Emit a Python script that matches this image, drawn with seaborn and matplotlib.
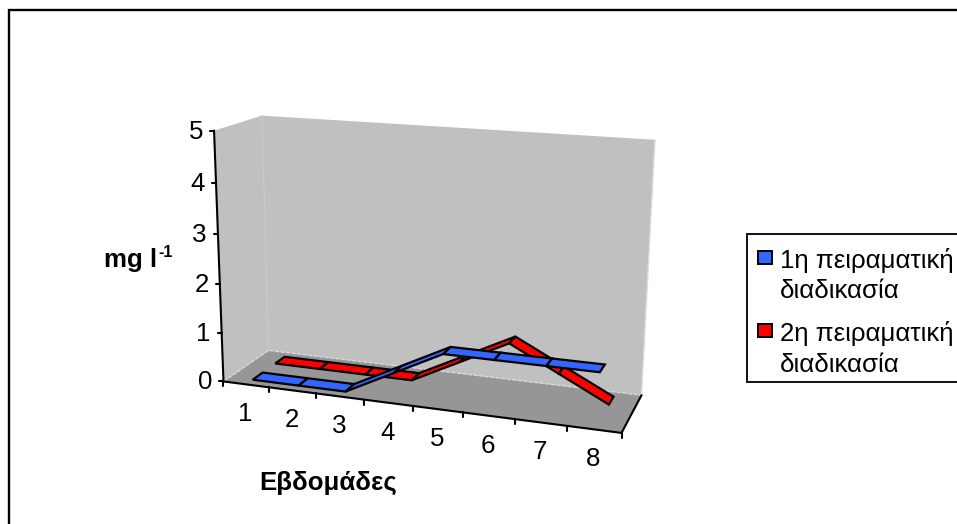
import numpy as np
import pandas as pd
import matplotlib
matplotlib.use("Agg")
import matplotlib.pyplot as plt
import seaborn as sns

# valeurs
weeks = [1, 2, 3, 4, 5, 6, 7, 8]
serie1 = [0, 0, 0, 0.5, 1, 1, 1, 1]
serie2 = [0, 0, 0, 0, 0.5, 1, 0.5, 0]
names = ["1η πειραματική\nδιαδικασία", "2η πειραματική\nδιαδικασία"]
colors = ["#3366FF", "#FF0000"]
yticks = [0, 1, 2, 3, 4, 5]
xlabel = "Εβδομάδες"
ylabel = "mg l"

W, H = 957, 524
sns.set_theme(style="white")
plt.rcParams["font.family"] = ["Liberation Sans", "DejaVu Sans"]

# coins du cadre 3D (semaine 0-8, profondeur 0-1, valeur 0-5) -> pixels
corners = [
    ((0, 0, 0), (224, 381)), ((8, 0, 0), (621, 434)),
    ((0, 1, 0), (268, 351)), ((8, 1, 0), (642, 394)),
    ((0, 0, 5), (214, 130)), ((0, 1, 5), (262, 116)),
    ((8, 1, 5), (655, 140)),
]
rows = []
for (x, d, v), (px, py) in corners:
    p = [x, d, v, 1]
    rows.append(p + [0] * 4 + [-px * c for c in p])
    rows.append([0] * 4 + p + [-py * c for c in p])
M = np.linalg.svd(np.array(rows, dtype=float))[2][-1].reshape(3, 4)


def proj(x, d, v):
    q = M @ np.array([x, d, v, 1.0])
    return q[0] / q[2], q[1] / q[2]


def poly(ax, pts, **kw):
    xy = [proj(*p) for p in pts]
    ax.fill([a for a, b in xy], [b for a, b in xy], **kw)


fig = plt.figure(figsize=(W / 100, H / 100), dpi=100)
ax = fig.add_axes([0, 0, 1, 1])
ax.set_xlim(0, W)
ax.set_ylim(H, 0)
ax.axis("off")

# cadre de la figure (haut et gauche seulement, le reste est coupé)
ax.plot([9.2, 9.2, W], [H, 10.2, 10.2], color="black", lw=1.7, solid_joinstyle="miter")

# murs et sol
poly(ax, [(0, 0, 0), (0, 1, 0), (0, 1, 5), (0, 0, 5)], fc="#C0C0C0", ec="none", zorder=1)
poly(ax, [(0, 1, 0), (8, 1, 0), (8, 1, 5), (0, 1, 5)], fc="#C0C0C0", ec="none", zorder=1)
poly(ax, [(0, 0, 0), (8, 0, 0), (8, 1, 0), (0, 1, 0)], fc="#969696", ec="none", zorder=1)

# arêtes claires
for a, b, c in [((0, 1, 0), (0, 1, 5), "#C8C8C8"), ((8, 1, 0), (8, 1, 5), "#DDDDDD")]:
    xy = np.array([proj(*a), proj(*b)])
    ax.plot(xy[:, 0], xy[:, 1], color=c, lw=1, zorder=2)
xy = np.array([proj(0, 0, 0), proj(0, 1, 0), proj(8, 1, 0)])
ax.plot(xy[:, 0], xy[:, 1], color="#D8D8D8", lw=1, ls=(0, (3, 1)), zorder=2)

# rubans, de l'arrière vers l'avant
z = 3
for vals, col, d0, d1 in [(serie2, colors[1], 0.65, 0.87), (serie1, colors[0], 0.14, 0.36)]:
    for i in range(len(weeks) - 1):
        x1, x2 = weeks[i] - 0.5, weeks[i + 1] - 0.5
        poly(ax, [(x1, d0, vals[i]), (x2, d0, vals[i + 1]), (x2, d1, vals[i + 1]), (x1, d1, vals[i])],
             fc=col, ec="black", lw=1.6, joinstyle="miter", zorder=z)
        z += 1

# axes (lignes via seaborn)
ax_rows = []
for name, a, b in [("y", (0, 0, 0), (0, 0, 5)), ("x", (0, 0, 0), (8, 0, 0)), ("d", (8, 0, 0), (8, 1, 0))]:
    for p in (a, b):
        px, py = proj(*p)
        ax_rows.append({"axe": name, "px": px, "py": py})
for t in yticks:
    for dx in (-4, 0):
        px, py = proj(0, 0, t)
        ax_rows.append({"axe": f"ty{t}", "px": px + dx, "py": py})
for k in range(9):
    for dy in (0, 5):
        px, py = proj(k, 0, 0)
        ax_rows.append({"axe": f"tx{k}", "px": px, "py": py + dy})
df_ax = pd.DataFrame(ax_rows)
sns.lineplot(data=df_ax, x="px", y="py", units="axe", estimator=None, sort=False,
             color="black", lw=1.5, ax=ax, legend=False, zorder=40)
ax.set_xlim(0, W)
ax.set_ylim(H, 0)
ax.axis("off")

# étiquettes
fs = 18.6
for t in yticks:
    px, py = proj(0, 0, t)
    ax.text(px - 11, py + 1, str(t), ha="right", va="center", fontsize=fs, color="black")
for k in weeks:
    px, py = proj(k - 0.5, 0, 0)
    ax.text(px - 1, py + 30, str(k), ha="center", va="center", fontsize=fs, color="black")
ax.text(328, 483, xlabel, ha="center", va="center", fontsize=fs, fontweight="bold", color="black")
ax.text(104, 267, ylabel, ha="left", va="baseline", fontsize=fs, fontweight="bold", color="black")
ax.text(158, 257, "-1", ha="left", va="baseline", fontsize=11.5, fontweight="bold", color="black")

# légende
ax.add_patch(plt.Rectangle((747, 234), W, 148, fc="white", ec="black", lw=1.3, zorder=50))
for name, col, ytop, base in zip(names, colors, [251, 324], [(268, 298), (341, 372)]):
    ax.add_patch(plt.Rectangle((757.5, ytop), 14, 13, fc=col, ec="black", lw=1.4, zorder=51))
    l1, l2 = name.split("\n")
    ax.text(780, base[0], l1, ha="left", va="baseline", fontsize=fs, color="black", zorder=51)
    ax.text(780, base[1], l2, ha="left", va="baseline", fontsize=fs, color="black", zorder=51)

fig.savefig("out.png", dpi=100)
